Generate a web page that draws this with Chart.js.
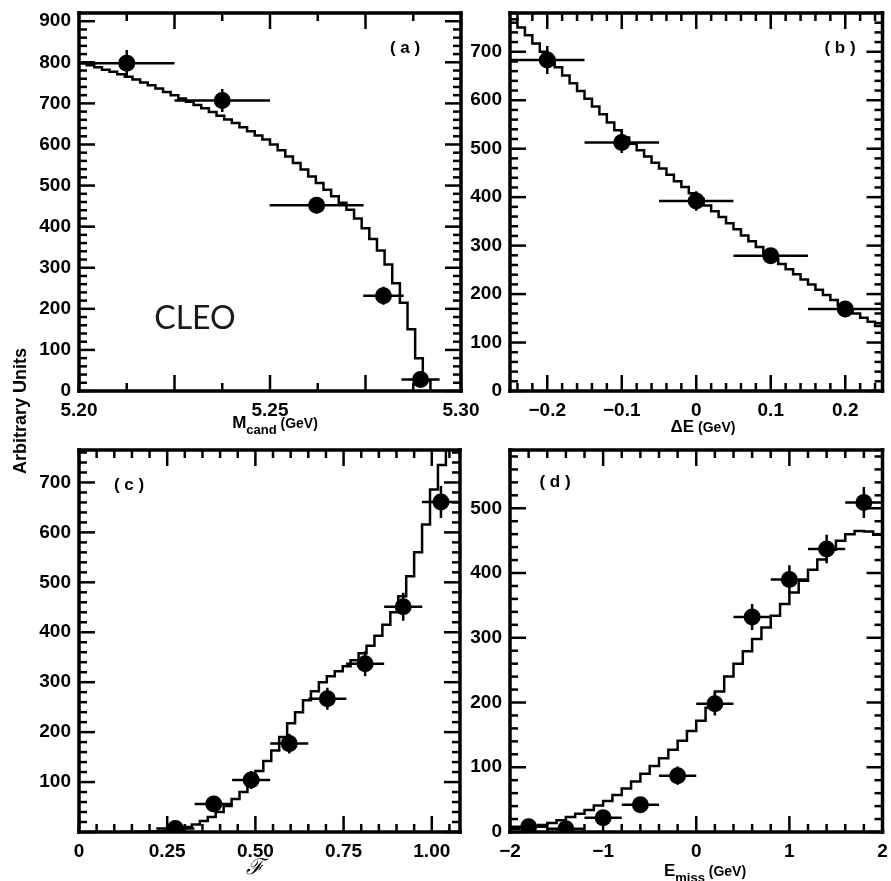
<!DOCTYPE html>
<html>
<head>
<meta charset="utf-8">
<script src="https://cdn.jsdelivr.net/npm/chart.js@4.4.0/dist/chart.umd.min.js"></script>
<style>
  body { margin: 0; background: #fff; }
  #wrap { position: relative; width: 891px; height: 881px; overflow: hidden; }
  canvas { position: absolute; }
</style>
</head>
<body>
<div id="wrap">
  <canvas id="pa"></canvas>
  <canvas id="pb"></canvas>
  <canvas id="pc"></canvas>
  <canvas id="pd"></canvas>
</div>

<script>
// (a) M_cand: fitted histogram (bin values) and data points
const aBinStart = 5.200, aBinWidth = 0.002;
const aModel = [798, 793, 788, 782, 777, 771, 765, 758, 751, 744,
                736, 728, 720, 712, 704, 696, 688, 679, 670, 661,
                652, 642, 632, 622, 612, 600, 586, 571, 555, 539,
                522, 506, 490, 474, 458, 441, 420, 396, 370, 342,
                308, 262, 215, 150, 80, 25, 0];
const aX = [5.2125, 5.2375, 5.2622, 5.2797, 5.2894];
const aY = [798, 707, 452, 232, 28];
const aXErr = [0.0125, 0.0125, 0.0123, 0.0053, 0.005];
const aYErr = [32, 28, 20, 22, 12];
const aXTicks = [5.20, 5.25, 5.30];
const aXLabels = ['5.20', '5.25', '5.30'];
const aYTicks = [0, 100, 200, 300, 400, 500, 600, 700, 800, 900];

// (b) Delta E
const bBinStart = -0.25, bBinWidth = 0.01;
const bModel = [767, 750, 734, 717, 700, 684, 668, 651, 635, 619,
                603, 587, 571, 554, 538, 523, 510, 497, 484, 471,
                459, 446, 433, 421, 408, 396, 383, 371, 359, 346,
                334, 321, 309, 297, 284, 273, 262, 251, 241, 230,
                220, 209, 198, 188, 177, 168, 160, 151, 143, 134];
const bX = [-0.2, -0.1, 0, 0.1, 0.2];
const bY = [683, 513, 392, 279, 169];
const bXErr = [0.05, 0.05, 0.05, 0.05, 0.05];
const bYErr = [29, 22, 20, 15, 12];
const bXTicks = [-0.2, -0.1, 0, 0.1, 0.2];
const bXLabels = ['\u22120.2', '\u22120.1', '0', '0.1', '0.2'];
const bYTicks = [0, 100, 200, 300, 400, 500, 600, 700];

// (c) Fisher discriminant
const cBinStart = 0.1175, cBinWidth = 0.0225;
const cModel = [0, 0, 0.5, 1, 1.5, 2, 4, 6, 10, 15,
                22, 30, 40, 52, 66, 80, 97, 122, 142, 163,
                190, 218, 240, 264, 282, 300, 312, 322, 332, 344,
                358, 373, 393, 415, 440, 472, 512, 560, 616, 686,
                735, 900];
const cX = [0.273, 0.382, 0.488, 0.596, 0.704, 0.811, 0.919, 1.026];
const cY = [7, 56, 104, 177, 267, 337, 451, 661];
const cXErr = [0.054, 0.054, 0.054, 0.054, 0.054, 0.054, 0.054, 0.054];
const cYErr = [15, 16, 18, 20, 22, 25, 28, 32];
const cXTicks = [0, 0.25, 0.5, 0.75, 1.0];
const cXLabels = ['0', '0.25', '0.50', '0.75', '1.00'];
const cYTicks = [100, 200, 300, 400, 500, 600, 700];

// (d) E_miss
const dBinStart = -2, dBinWidth = 0.1;
const dModel = [5, 7, 9, 11, 14, 18, 23, 28, 34, 41,
                48, 57, 67, 78, 90, 102, 114, 127, 141, 156,
                172, 192, 217, 240, 260, 279, 298, 316, 334, 352,
                370, 388, 405, 421, 436, 450, 460, 465, 464, 459];
const dX = [-1.8, -1.4, -1.0, -0.6, -0.2, 0.2, 0.6, 1.0, 1.4, 1.8];
const dY = [8, 5, 22, 42, 87, 198, 332, 390, 437, 509];
const dXErr = [0.2, 0.2, 0.2, 0.2, 0.2, 0.2, 0.2, 0.2, 0.2, 0.2];
const dYErr = [8, 8, 10, 12, 14, 18, 20, 22, 22, 24];
const dXTicks = [-2, -1, 0, 1, 2];
const dXLabels = ['\u22122', '\u22121', '0', '1', '2'];
const dYTicks = [0, 100, 200, 300, 400, 500];

const SANS = "'Liberation Sans', Arial, sans-serif";
const B17 = 'bold 17px ' + SANS, B13 = 'bold 13px ' + SANS, B14 = 'bold 14px ' + SANS;

// write a row of text pieces (sub/normal) centred on x
function drawRuns(ctx, t, ox, oy) {
  ctx.save();
  ctx.translate(t.x - ox, t.y - oy);
  if (t.rot) ctx.rotate(t.rot);
  ctx.fillStyle = t.color || '#000';
  ctx.textAlign = 'left';
  ctx.textBaseline = t.base || 'alphabetic';
  let w = 0;
  t.runs.forEach(r => { ctx.font = r.f; w += ctx.measureText(r.t).width; });
  let x = -w / 2;
  t.runs.forEach(r => {
    ctx.font = r.f;
    ctx.fillText(r.t, x, r.dy || 0);
    x += ctx.measureText(r.t).width;
  });
  ctx.restore();
}

// frame with inward major/minor ticks on all four sides, then the panel texts
function frameTicks(m, cv, texts) {
  return {
    id: 'frameTicks',
    afterDraw(chart) {
      const ctx = chart.ctx;
      const L = Number(chart.chartArea.left), T = Number(chart.chartArea.top);
      const R = Number(chart.chartArea.right), Bt = Number(chart.chartArea.bottom);
      const lw = 2.5, fw = 3.5;
      ctx.save();
      ctx.setLineDash([]);
      ctx.globalAlpha = 1;
      ctx.globalCompositeOperation = 'source-over';
      ctx.fillStyle = '#000';
      const each = (scale, minor, major, fn) => {
        const n0 = Math.ceil(scale.min / minor - 1e-6);
        const n1 = Math.floor(scale.max / minor + 1e-6);
        for (let n = n0; n <= n1; n++) {
          const r = n * minor / major;
          const len = Number(Math.abs(r - Math.round(r)) < 1e-6 ? m.majorLen : m.minorLen);
          fn(Number(scale.getPixelForValue(n * minor)), len);
        }
      };
      each(chart.scales.x, m.xMinor, m.xMajor, (p, len) => {
        ctx.fillRect(p - lw / 2, Bt - len, lw, len);
        ctx.fillRect(p - lw / 2, T, lw, len);
      });
      each(chart.scales.y, m.yMinor, m.yMajor, (p, len) => {
        ctx.fillRect(L, p - lw / 2, len, lw);
        ctx.fillRect(R - len, p - lw / 2, len, lw);
      });
      // frame
      ctx.fillRect(L - fw / 2, T - fw / 2, R - L + fw, fw);
      ctx.fillRect(L - fw / 2, Bt - fw / 2, R - L + fw, fw);
      ctx.fillRect(L - fw / 2, T - fw / 2, fw, Bt - T + fw);
      ctx.fillRect(R - fw / 2, T - fw / 2, fw, Bt - T + fw);
      ctx.restore();
      texts.forEach(t => drawRuns(ctx, t, cv.x, cv.y));
    }
  };
}

// cv: canvas box on the page, area: plot area on the page
function makePanel(id, cv, area, xRange, yRange, xTicks, xLabels, yTicks, start, width, model, px, py, pxe, pye, marks, texts) {
  const canvas = document.getElementById(id);
  canvas.width = cv.w; canvas.height = cv.h;
  canvas.style.left = cv.x + 'px'; canvas.style.top = cv.y + 'px';
  const yw = area.l - cv.x, xh = 40;

  const histo = model.map((v, i) => ({x: start + i * width, y: v}));
  histo.push({x: start + model.length * width, y: model[model.length - 1]});

  const points = px.map((x, i) => ({x: x, y: py[i]}));
  const bars = [];
  px.forEach((x, i) => {
    bars.push({x: x - pxe[i], y: py[i]}, {x: x + pxe[i], y: py[i]}, {x: x + pxe[i], y: null});
    bars.push({x: x, y: py[i] - pye[i]}, {x: x, y: py[i] + pye[i]}, {x: x, y: null});
  });

  new Chart(canvas, {
    type: 'line',
    data: {
      datasets: [
        {data: points, showLine: false, pointRadius: 8.5, pointBackgroundColor: '#000', pointBorderWidth: 0},
        {data: bars, borderColor: '#000', borderWidth: 2.5, pointRadius: 0, spanGaps: false},
        {data: histo, borderColor: '#000', borderWidth: 2.5, pointRadius: 0, stepped: true}
      ]
    },
    options: {
      responsive: false,
      animation: false,
      events: [],
      layout: {padding: {left: 0, top: area.t - cv.y, right: cv.x + cv.w - area.r, bottom: cv.y + cv.h - area.b - xh}},
      plugins: {legend: {display: false}, tooltip: {enabled: false}},
      scales: {
        x: {
          type: 'linear', min: xRange[0], max: xRange[1],
          grid: {display: false, drawTicks: false}, border: {display: false},
          afterBuildTicks: s => { s.ticks = xTicks.map(v => ({value: v})); },
          afterFit: s => { s.height = xh; s.paddingLeft = 0; s.paddingRight = 0; },
          ticks: {autoSkip: false, maxRotation: 0, padding: 8, color: '#000',
                  font: {family: SANS, size: 19, weight: 'bold'},
                  callback: (v, i) => xLabels[i]}
        },
        y: {
          min: yRange[0], max: yRange[1],
          grid: {display: false, drawTicks: false}, border: {display: false},
          afterBuildTicks: s => { s.ticks = yTicks.map(v => ({value: v})); },
          afterFit: s => { s.width = yw; s.paddingTop = 0; s.paddingBottom = 0; },
          ticks: {autoSkip: false, padding: 8, color: '#000',
                  font: {family: SANS, size: 19, weight: 'bold'},
                  callback: (v, i) => String(yTicks[i])}
        }
      }
    },
    plugins: [frameTicks(marks, cv, texts)]
  });
}

makePanel('pa', {x: 0, y: 0, w: 480, h: 482}, {l: 79, t: 13, r: 461, b: 391},
  [5.2, 5.3], [0, 920], aXTicks, aXLabels, aYTicks,
  aBinStart, aBinWidth, aModel, aX, aY, aXErr, aYErr,
  {xMajor: 0.025, xMinor: 0.0125, yMajor: 100, yMinor: 20, majorLen: 16, minorLen: 8},
  [
    {x: 21, y: 411, rot: -Math.PI / 2, base: 'middle', runs: [{t: 'Arbitrary Units', f: 'bold 18px ' + SANS}]},
    {x: 405, y: 48, base: 'middle', runs: [{t: '( a )', f: B17}]},
    {x: 275, y: 428, runs: [{t: 'M', f: B17}, {t: 'cand', f: B13, dy: 6}, {t: ' (GeV)', f: B14}]},
    {x: 195, y: 329, color: '#1a1a1a', runs: [{t: 'CLEO', f: '32px Lato, sans-serif'}]}
  ]);
makePanel('pb', {x: 462, y: 0, w: 429, h: 440}, {l: 510, t: 13, r: 888, b: 391},
  [-0.25, 0.25], [0, 780], bXTicks, bXLabels, bYTicks,
  bBinStart, bBinWidth, bModel, bX, bY, bXErr, bYErr,
  {xMajor: 0.1, xMinor: 0.02, yMajor: 100, yMinor: 20, majorLen: 16, minorLen: 8},
  [
    {x: 840, y: 48, base: 'middle', runs: [{t: '( b )', f: B17}]},
    {x: 703, y: 432, runs: [{t: '\u0394E', f: B17}, {t: ' (GeV)', f: B14}]}
  ]);
makePanel('pc', {x: 0, y: 440, w: 480, h: 441}, {l: 79, t: 450, r: 460, b: 832},
  [0, 1.08], [0, 765], cXTicks, cXLabels, cYTicks,
  cBinStart, cBinWidth, cModel, cX, cY, cXErr, cYErr,
  {xMajor: 0.25, xMinor: 0.05, yMajor: 100, yMinor: 20, majorLen: 16, minorLen: 8},
  [
    {x: 129, y: 485, base: 'middle', runs: [{t: '( c )', f: B17}]},
    {x: 255, y: 868, base: 'middle', runs: [{t: '\u2131', f: "italic 22px 'DejaVu Serif', serif"}]}
  ]);
makePanel('pd', {x: 462, y: 440, w: 429, h: 441}, {l: 510, t: 450, r: 888, b: 832},
  [-2, 2], [0, 590], dXTicks, dXLabels, dYTicks,
  dBinStart, dBinWidth, dModel, dX, dY, dXErr, dYErr,
  {xMajor: 1, xMinor: 0.2, yMajor: 100, yMinor: 20, majorLen: 16, minorLen: 8},
  [
    {x: 555, y: 482, base: 'middle', runs: [{t: '( d )', f: B17}]},
    {x: 705, y: 876, runs: [{t: 'E', f: B17}, {t: 'miss', f: B13, dy: 6}, {t: ' (GeV)', f: B14}]}
  ]);
</script>
</body>
</html>
